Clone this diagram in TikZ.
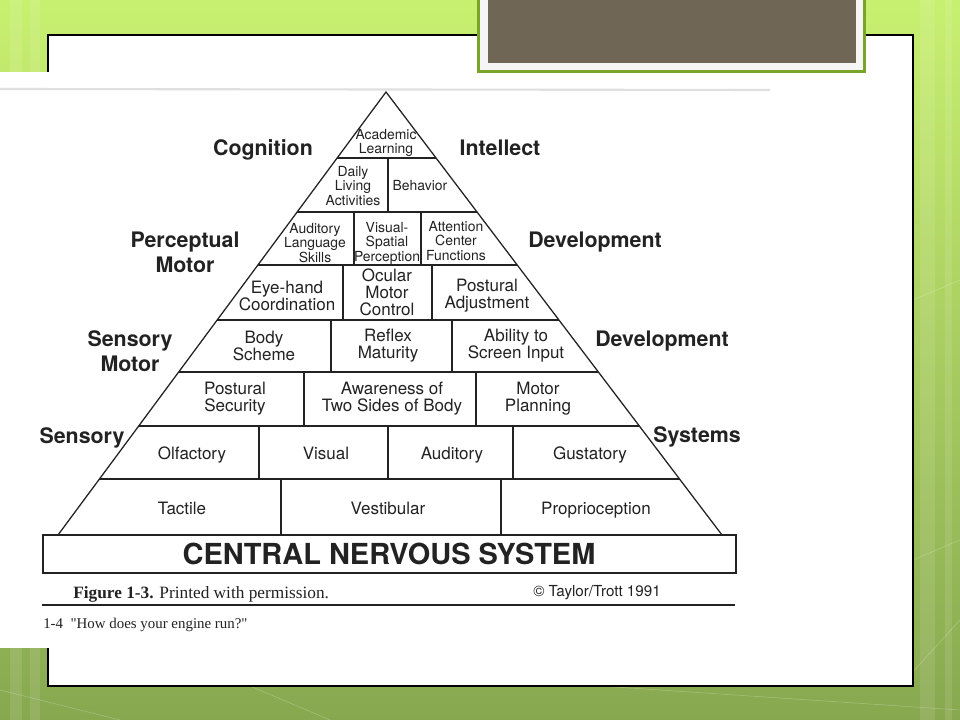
\documentclass[tikz,border=0pt]{standalone}
\usepackage{fontspec}
\setmainfont{TeX Gyre Heros}
\newfontfamily\capfont{Liberation Serif}
\usetikzlibrary{calc}
\definecolor{gtop}{RGB}{200,240,112}
\definecolor{gbot}{RGB}{136,168,80}
\definecolor{gframe}{RGB}{122,164,40}
\definecolor{titlebox}{RGB}{112,102,86}
\definecolor{ink}{RGB}{34,34,34}

\begin{document}
\begin{tikzpicture}[x=0.025cm, y=-0.025cm]
\path [use as bounding box] (0,0) rectangle (960,720);
\tikzstyle{cell} = [align=center, text=ink, inner sep=0pt, font=\fontsize{12.1}{12.2}\selectfont]
\tikzstyle{onecell} = [cell, text height=8.7pt, text depth=0pt]
\tikzstyle{smallcell} = [cell, font=\fontsize{9.9}{10.3}\selectfont]
\tikzstyle{side} = [align=center, text=ink, inner sep=0pt, font=\bfseries\fontsize{15.2}{17.7}\selectfont]
\tikzstyle{oneside} = [side, text height=11pt, text depth=0pt]
\tikzstyle{rule} = [draw=ink, line width=0.9pt]
\tikzstyle{bold rule} = [draw=ink, line width=1.7pt]
% slide
\shade[top color=gtop, bottom color=gbot] (0,0) rectangle (960,720);
\foreach \xa/\xb in {10/22, 30/40, 920/935, 945/952}
	\fill[white, opacity=.10] (\xa,0) rectangle (\xb,720);
\foreach \pa/\pb in {{(0,690)}/{(120,720)}, {(250,686)}/{(330,720)}, {(600,686)}/{(960,710)}, {(913,560)}/{(960,540)}, {(913,300)}/{(960,280)}, {(900,686)}/{(960,620)}}
	\draw[white, opacity=.25] \pa -- \pb;
\draw[black, line width=1.1pt, fill=white] (48,35) rectangle (913,686);
\fill[white] (0,72) rectangle (770,648);
\draw[gray!25, line width=1.5pt] (0,89) -- (770,90);
\fill[gframe] (477,-5) rectangle (866,73);
\fill[gray!8] (480,-5) rectangle (863,70);
\fill[titlebox] (488,-5) rectangle (856,63);
% pyramid
\coordinate (A) at (386,92);
\coordinate (B) at (58,535);
\coordinate (C) at (722,535);
\draw[rule] (B) -- (A) -- (C);
\foreach \y/\w in {158/rule, 212/rule, 265/rule, 320/bold rule, 372/rule, 426/bold rule, 479/rule}
	\path[\w] ($(A)!{(\y-92)/443}!(B)$) -- ($(A)!{(\y-92)/443}!(C)$);
\foreach \x/\ya/\yb in {388/158/212, 354/212/265, 421/212/265, 343/265/320, 432/265/320,
	331/320/372, 452/320/372, 304/372/426, 476/372/426,
	259/426/479, 388/426/479, 513/426/479, 281/479/535, 501/479/535}
	\path[rule] (\x,\ya) -- (\x,\yb);
\path[rule] (43,535) rectangle (736,573);
\node[cell, text height=14.6pt, text depth=0pt, font=\bfseries\fontsize{20.6}{22}\selectfont] (cns) at (389,554) {CENTRAL NERVOUS SYSTEM};
% cells
\node[smallcell] (acad) at (386,143) {Academic\\Learning};
\node[smallcell] (daily) at (353,186) {Daily\\Living\\Activities};
\node[smallcell, text height=7.1pt, text depth=0pt] (behav) at (420,186) {Behavior};
\node[smallcell] (audlang) at (315,243) {Auditory\\Language\\Skills};
\node[smallcell] (visspat) at (387,243) {Visual-\\Spatial\\Perception};
\node[smallcell] (attn) at (456,241) {Attention\\Center\\Functions};
\node[cell] (eyehand) at (287,296) {Eye-hand\\Coordination};
\node[cell] (ocular) at (387,292) {Ocular\\Motor\\Control};
\node[cell] (postadj) at (487,296) {Postural\\Adjustment};
\node[cell] (body) at (264,346) {Body\\Scheme};
\node[cell] (reflex) at (388,346) {Reflex\\Maturity};
\node[cell] (ability) at (516,346) {Ability to\\Screen Input};
\node[cell] (postsec) at (235,399) {Postural\\Security};
\node[cell] (aware) at (392,399) {Awareness of\\Two Sides of Body};
\node[cell] (motplan) at (538,399) {Motor\\Planning};
\node[onecell] (olf) at (192,453) {Olfactory};
\node[onecell] (vis) at (326,453) {Visual};
\node[onecell] (aud) at (452,453) {Auditory};
\node[onecell] (gust) at (590,453) {Gustatory};
\node[onecell] (tact) at (182,508) {Tactile};
\node[onecell] (vest) at (388,508) {Vestibular};
\node[onecell] (prop) at (596,508) {Proprioception};
% sides
\node[oneside] (cog) at (263,148) {Cognition};
\node[oneside] (intel) at (500,148) {Intellect};
\node[side] (percmot) at (185,252) {Perceptual\\Motor};
\node[oneside] (devA) at (595,240) {Development};
\node[side] (sensmot) at (130,351) {Sensory\\Motor};
\node[oneside] (devB) at (662,339) {Development};
\node[oneside] (sens) at (82,436) {Sensory};
\node[oneside] (syst) at (697,435) {Systems};
% caption
\node[anchor=west, text=ink, inner sep=0pt, font=\capfont\fontsize{12.3}{13}\selectfont] (fig) at (73,594) {\textbf{Figure 1-3.} Printed with permission.};
\node[text=ink, inner sep=0pt, font=\fontsize{10.8}{12}\selectfont] (copy) at (597,593) {\textcopyright\ Taylor/Trott 1991};
\draw[ink, line width=0.8pt] (42,605) -- (735,605);
\node[anchor=west, text=ink, inner sep=0pt, font=\capfont\fontsize{10.6}{12}\selectfont] (engine) at (43,625) {1-4\ \ "How does your engine run?"};
\end{tikzpicture}
\end{document}
